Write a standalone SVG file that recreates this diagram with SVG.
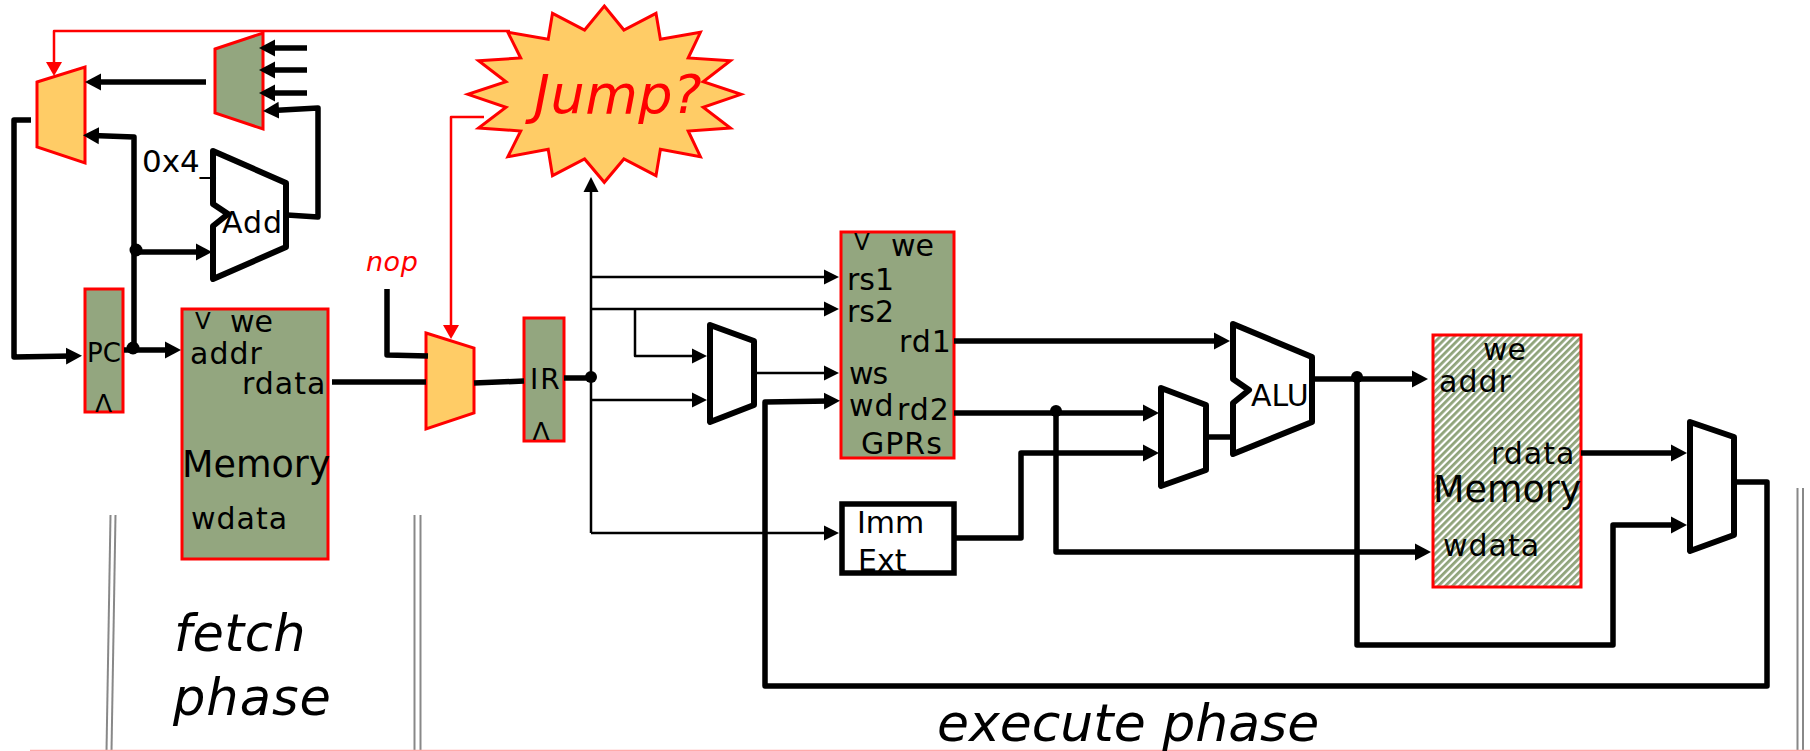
<svg xmlns="http://www.w3.org/2000/svg" width="1810" height="751" viewBox="0 0 1810 751">
<style>
text{font-family:"DejaVu Sans","Liberation Sans",sans-serif;font-size:30px;fill:#000}
.g{fill:#93a67f;stroke:#f00;stroke-width:3}
.o{fill:#fc6;stroke:#f00;stroke-width:3}
.w{fill:#fff;stroke:#000;stroke-width:6;stroke-linejoin:round}
.s{letter-spacing:1px}
.c path{fill:none;stroke:#000;stroke-linejoin:round}
.c .t{stroke-width:5.500;marker-end:url(#ah)}
.c .n{stroke-width:5.500}
.c .f{stroke-width:2.500;marker-end:url(#as)}
.c .ra{stroke:#f00;stroke-width:2.500;marker-end:url(#ar)}
.b line{stroke:#888;stroke-width:2}
.i{font-style:italic}
</style>
<defs>
<marker id="ah" markerUnits="userSpaceOnUse" markerWidth="18" markerHeight="18" refX="6" refY="9" orient="auto"><path d="M0,0.5 L16,9 L0,17.5 Z" fill="#000"/></marker>
<marker id="as" markerUnits="userSpaceOnUse" markerWidth="16" markerHeight="16" refX="5" refY="8" orient="auto"><path d="M0,0.5 L15,8 L0,15.5 Z" fill="#000"/></marker>
<marker id="ar" markerUnits="userSpaceOnUse" markerWidth="17" markerHeight="17" refX="4" refY="8.5" orient="auto"><path d="M0,0.5 L14,8.5 L0,16.5 Z" fill="#f00"/></marker>
<pattern id="hatch" width="5" height="5" patternUnits="userSpaceOnUse" patternTransform="rotate(45)"><rect width="5" height="5" fill="#fff"/><rect width="2.800" height="5" fill="#8fa37a"/></pattern>
</defs>
<g id="boundaries" class="b">
<line x1="110.500" y1="515" x2="106.500" y2="751"/><line x1="115.500" y1="515" x2="111.500" y2="751"/>
<line x1="414.500" y1="515" x2="414.500" y2="751"/><line x1="420.500" y1="515" x2="420.500" y2="751"/>
<line x1="1797.500" y1="488" x2="1797.500" y2="751"/><line x1="1803" y1="488" x2="1803" y2="751"/>
<line x1="30" y1="750.500" x2="1810" y2="750.500" style="stroke:#faa;stroke-width:1.500"/>
</g>
<g id="jump-mux"><polygon class="g" points="215,49 263,33 263,129 215,113"/></g>
<g id="pc-mux"><polygon class="o" points="37,82 85,67 85,163 37,147"/></g>
<g id="adder"><polygon class="w" points="213,151 286,183 286,247 213,279 213,226 228,214 213,204"/><text x="222" y="233" class="s">Add</text></g>
<text id="const4" x="142" y="172" style="font-size:31px">0x4_</text>
<g id="pc"><rect class="g" x="85" y="289" width="38" height="123"/><text x="87" y="362" style="font-size:26px">PC</text><text x="95" y="412" style="font-size:25px">Λ</text></g>
<g id="imem"><rect class="g" x="182" y="309" width="146" height="250"/>
<text x="195" y="329" style="font-size:23px">V</text><text x="230" y="332">we</text><text x="190" y="364" class="s">addr</text><text x="242" y="394" class="s">rdata</text><text x="182" y="477" style="font-size:36.500px">Memory</text><text x="191" y="529" class="s">wdata</text></g>
<g id="nop-label"><text class="i" x="366" y="271" style="font-size:27px;fill:#f00;letter-spacing:.5px">nop</text></g>
<g id="nop-mux"><polygon class="o" points="426,333 474,348 474,413 426,429"/></g>
<g id="ir"><rect class="g" x="524" y="318" width="40" height="123"/><text x="530" y="389" style="font-size:28px;letter-spacing:2px">IR</text><text x="532.500" y="440" style="font-size:25px">Λ</text></g>
<g id="jump"><polygon class="o" points="604.300,6 623.900,30 656,13.300 660.400,39.300 700.400,32.300 688.200,58 730.400,60.700 703.200,81.700 741,94.300 703.200,107.300 730.400,128 688.200,131 700.400,156.700 660.400,149.300 656,175.700 623.900,159 604.300,182.300 584.600,159 552.500,175.700 548.200,149.300 507.900,156.700 520.700,131 478.600,128 506,107.300 467.900,94.300 506,81.700 478.600,60.700 520.700,58 507.900,32.300 548.200,39.300 552.500,13.300 584.600,30"/><text class="i" x="534" y="113" style="font-size:54px;fill:#f00;letter-spacing:.5px">Jump?</text></g>
<g id="ws-mux"><polygon class="w" points="710,325 754,341 754,405 710,422"/></g>
<g id="gprs"><rect class="g" x="841" y="232" width="113" height="226"/>
<text x="854" y="250" style="font-size:23px">V</text><text x="891" y="256">we</text><text x="847" y="290">rs1</text><text x="847" y="322">rs2</text><text x="899" y="352" class="s">rd1</text><text x="849" y="384" style="letter-spacing:-1px">ws</text><text x="849" y="416" class="s">wd</text><text x="897" y="420" class="s">rd2</text><text x="861" y="454" class="s">GPRs</text></g>
<g id="imm"><rect x="842" y="504" width="112" height="69" fill="#fff" stroke="#000" stroke-width="5.500"/><text x="857" y="533">Imm</text><text x="858" y="571">Ext</text></g>
<g id="alu-mux"><polygon class="w" points="1161,388 1206,405 1206,470 1161,486"/></g>
<g id="alu"><polygon class="w" points="1233,324 1312,357 1312,422 1233,454 1233,403 1249,390 1233,379"/><text x="1251" y="406">ALU</text></g>
<g id="dmem"><rect x="1433" y="335" width="148" height="252" fill="url(#hatch)" stroke="#f00" stroke-width="3"/>
<text x="1483" y="360">we</text><text x="1439" y="392" class="s">addr</text><text x="1491" y="464" class="s">rdata</text><text x="1433" y="502" style="font-size:36.500px">Memory</text><text x="1443" y="556" class="s">wdata</text></g>
<g id="wb-mux"><polygon class="w" points="1690,422 1734,437 1734,535 1690,551"/></g>
<text id="fetch-label" class="i" x="174" y="651" style="font-size:51px;letter-spacing:.5px">fetch</text>
<text id="phase-label" class="i" x="173" y="715" style="font-size:51px;letter-spacing:1px">phase</text>
<text id="execute-label" class="i" x="937" y="741" style="font-size:52px">execute phase</text>
<g id="connectors" class="c">
<path class="ra" d="M510,31 H54 V66"/>
<path class="ra" d="M484,117 H451 V329"/>
<path class="t" d="M307,48 H269"/><path class="t" d="M307,70 H269"/><path class="t" d="M307,93 H269"/>
<path class="t" d="M287,215 L318,217 V108 L273,110.500"/>
<path class="t" d="M206,82 H95"/>
<path class="t" d="M31,120 H14 V357 L72,356"/>
<path class="t" d="M134,348 V137 L93,135.500"/>
<path class="t" d="M136,252 H202"/>
<path class="t" d="M124,350 H171"/>
<path class="n" d="M387,289 V355 L428,356"/>
<path class="n" d="M332,382 H426"/>
<path class="n" d="M474,383 L524,381"/>
<path class="n" d="M564,378 H591"/>
<path class="f" d="M591,533 V187"/>
<path class="f" d="M591,277 H829"/>
<path class="f" d="M591,309 H829"/>
<path class="f" d="M635,309 V356 H697"/>
<path class="f" d="M591,400 H697"/>
<path class="f" d="M591,533 H829"/>
<path class="f" d="M756,373 H829"/>
<path class="t" d="M1736,482 H1767 V686 H765 V402 L830,401"/>
<path class="t" d="M956,538 H1021 V453 H1149"/>
<path class="t" d="M954,413 H1149"/>
<path class="t" d="M1056,413 V552 H1421"/>
<path class="t" d="M954,341 H1220"/>
<path class="n" d="M1206,437 H1233"/>
<path class="t" d="M1312,379 H1418"/>
<path class="t" d="M1357,379 V645 H1613 V525 H1677"/>
<path class="t" d="M1581,453 H1677"/>
<circle cx="136" cy="250" r="6.500"/><circle cx="133" cy="348" r="6.500"/><circle cx="591" cy="377" r="6"/><circle cx="1056" cy="411" r="6"/><circle cx="1357" cy="377" r="6"/>
</g>
</svg>
